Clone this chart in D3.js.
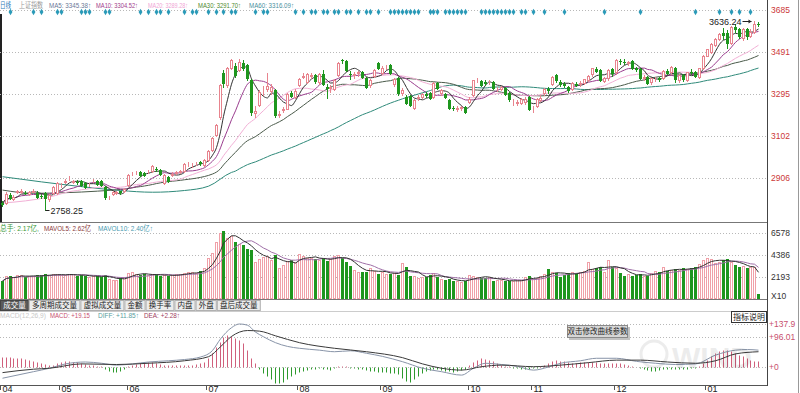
<!DOCTYPE html>
<html>
<head>
<meta charset="utf-8">
<script src="https://cdn.jsdelivr.net/npm/d3@7"></script>
<style>
  body { margin: 0; background: #fff; }
  svg { display: block; }
  text { font-family: "Liberation Sans", "Noto Sans CJK SC", sans-serif; }
</style>
</head>
<body>
<div id="chart"></div>
<script>
// ---- data ----
const monthLabels = ["04", "05", "06", "07", "08", "09", "10", "11", "12", "01"];
const monthStart = [0, 15, 32, 52, 75, 96, 118, 134, 155, 178];

const opens = [
  2788,2790,2828,2810,2840,2842,2837,2832,2843,2838,
  2823,2838,2808,2836,2838,2872,2888,2904,2888,2889,
  2892,2882,2876,2892,2892,2892,2864,2816,2832,2838,
  2844,2848,2873,2924,2933,2934,2929,2937,2938,2948,
  2943,2883,2910,2922,2930,2933,2938,2970,2964,2972,
  2980,2966,2990,3036,3106,3190,3393,3338,3417,3426,
  3408,3440,3430,3361,3206,3245,3318,3318,3310,3315,
  3200,3222,3228,3298,3282,3338,3376,3352,3380,3384,
  3350,3386,3326,3322,3318,3385,3452,3450,3390,3385,
  3392,3398,3370,3338,3378,3440,3394,3420,3430,3340,
  3370,3300,3282,3287,3231,3278,3283,3294,3300,3282,
  3346,3300,3296,3268,3232,3228,3232,3236,3259,3292,
  3360,3356,3350,3350,3350,3320,3320,3324,3300,3258,
  3256,3255,3258,3280,3224,3240,3268,3298,3318,3342,
  3382,3352,3340,3330,3318,3342,3340,3345,3362,3386,
  3410,3408,3358,3370,3410,3396,3450,3446,3440,3448,
  3414,3410,3372,3376,3350,3364,3370,3370,3400,3396,
  3418,3362,3384,3360,3398,3399,3375,3414,3474,3492,
  3522,3552,3580,3580,3532,3606,3598,3555,3597,3566,
  3585,3622
];
const highs = [
  2798,2840,2836,2826,2852,2854,2845,2848,2855,2845,
  2830,2842,2832,2870,2888,2882,2900,2914,2898,2896,
  2898,2886,2885,2900,2898,2895,2868,2824,2848,2848,
  2848,2860,2924,2932,2940,2938,2934,2944,2966,2956,
  2948,2924,2915,2932,2940,2944,2974,2978,2974,2980,
  2986,2992,3036,3096,3158,3342,3407,3422,3459,3440,
  3456,3452,3436,3365,3240,3312,3332,3391,3340,3320,
  3215,3236,3298,3310,3318,3372,3392,3394,3392,3390,
  3394,3405,3340,3336,3365,3446,3460,3455,3400,3398,
  3404,3404,3374,3366,3410,3445,3424,3430,3436,3372,
  3376,3322,3290,3292,3274,3290,3302,3304,3306,3352,
  3352,3320,3302,3272,3240,3238,3242,3240,3280,3362,
  3372,3362,3360,3362,3356,3330,3334,3328,3305,3270,
  3266,3278,3280,3285,3240,3276,3290,3324,3326,3380,
  3390,3362,3350,3334,3350,3350,3354,3366,3382,3418,
  3420,3412,3374,3410,3414,3458,3460,3456,3450,3452,
  3422,3414,3384,3380,3372,3374,3376,3408,3410,3424,
  3422,3386,3390,3398,3412,3402,3416,3475,3506,3530,
  3556,3580,3600,3590,3610,3620,3602,3600,3600,3596,
  3636.24,3628
];
const lows = [
  2778,2786,2808,2804,2836,2838,2830,2828,2839,2815,
  2814,2758.25,2800,2832,2834,2866,2882,2898,2882,2880,
  2868,2858,2868,2886,2874,2868,2808,2810,2828,2832,
  2834,2842,2870,2918,2926,2914,2916,2930,2934,2940,
  2920,2878,2886,2916,2925,2928,2934,2962,2958,2964,
  2968,2962,2986,3030,3100,3180,3330,3330,3410,3375,
  3400,3408,3360,3200,3190,3240,3290,3310,3296,3190,
  3188,3212,3224,3280,3278,3334,3368,3348,3370,3348,
  3342,3338,3278,3305,3312,3378,3440,3400,3364,3372,
  3380,3370,3322,3330,3374,3410,3390,3410,3388,3334,
  3292,3290,3248,3238,3225,3268,3278,3282,3270,3276,
  3318,3292,3276,3224,3220,3218,3222,3206,3254,3286,
  3350,3332,3338,3342,3318,3310,3314,3290,3262,3246,
  3244,3248,3250,3220,3210,3236,3262,3292,3300,3336,
  3350,3332,3328,3304,3314,3332,3334,3340,3356,3380,
  3396,3358,3350,3362,3380,3390,3436,3434,3430,3410,
  3400,3366,3360,3340,3340,3356,3358,3366,3386,3390,
  3350,3352,3358,3356,3390,3374,3372,3412,3470,3485,
  3518,3545,3552,3510,3526,3585,3555,3545,3550,3560,
  3580,3610
];
const closes = [
  2786,2832,2814,2818,2845,2848,2836,2842,2848,2820,
  2822,2814,2827,2864,2883,2874,2893,2906,2893,2888,
  2873,2864,2880,2894,2878,2874,2818,2818,2842,2842,
  2840,2854,2920,2926,2934,2920,2920,2938,2961,2947,
  2925,2920,2892,2926,2935,2938,2970,2971,2968,2973,
  2975,2988,3030,3092,3152,3338,3346,3417,3452,3384,
  3446,3417,3370,3212,3216,3305,3320,3334,3326,3196,
  3205,3228,3294,3286,3310,3367,3378,3388,3384,3356,
  3386,3342,3322,3326,3361,3438,3451,3408,3386,3390,
  3396,3376,3330,3361,3405,3418,3417,3422,3394,3365,
  3300,3315,3254,3245,3268,3280,3296,3292,3278,3348,
  3324,3312,3282,3231,3230,3230,3234,3212,3272,3360,
  3361,3338,3348,3352,3324,3320,3326,3296,3270,3259,
  3258,3272,3272,3225,3226,3272,3278,3320,3312,3373,
  3360,3344,3338,3312,3347,3339,3347,3363,3377,3414,
  3402,3362,3369,3408,3392,3451,3449,3442,3444,3416,
  3410,3371,3373,3347,3369,3367,3366,3404,3394,3420,
  3366,3382,3363,3396,3397,3379,3414,3473,3502,3528,
  3550,3576,3570,3531,3608,3598,3566,3596,3566,3583,
  3621,3618
];
const volumes = [
  1800,2300,2250,2200,2350,2400,2200,2250,2300,2400,
  2350,2450,2350,2500,2450,2400,2350,2500,2450,2300,
  2350,2300,2200,2250,2300,2200,2350,2000,1900,1850,
  2100,2200,2600,2700,2500,2400,2450,2350,2500,2450,
  2300,2350,2300,2400,2450,2500,2600,2650,2700,2550,
  2800,3100,4100,4600,5700,6600,6800,6100,6300,5700,
  5500,5400,5000,4900,3700,4000,4200,4300,3900,4400,
  3100,3400,3800,3900,3700,4500,4300,4100,4100,4000,
  3900,4100,3800,4000,4300,4400,4100,3700,3300,2900,
  2700,2700,2700,3100,2800,2500,2700,2500,2500,2600,
  2400,3600,3200,2300,2250,2100,2200,2200,2400,2600,
  2200,2000,1900,2000,1800,1750,1700,1800,2400,2300,
  2200,2100,2100,2200,1800,1900,1850,1800,1750,1800,
  1850,1900,2200,2300,2000,2100,2300,2500,3000,2700,
  2600,2200,2400,2600,2700,2600,2700,2800,3700,3000,
  3100,3200,2700,3900,3200,3100,2600,2300,2500,2300,
  2400,2500,2300,2300,2600,2800,2700,3200,2800,2900,
  3000,2900,3100,3000,3100,3200,3500,3900,4100,4000,
  3600,3700,3900,4000,3700,3400,3200,3300,3100,3200,
  3200,500
];
const macdHist = [
  31,31,31,30,30,29,27,24,20,17,
  12,10,8,6,14,16,18,18,17,15,
  13,10,8,6,4,2,-6,-12,-15,-15,
  -12,-8,2,6,10,13,15,16,15,13,
  10,8,7,6,5,5,5,6,7,9,
  12,16,28,44,65,81,97,102,99,92,
  86,76,54,28,12,-8,-20,-28,-38,-50,
  -52,-48,-40,-30,-22,-16,-12,-10,-8,-6,
  -4,-6,-8,-10,-4,2,4,2,-2,-4,
  -6,-8,-10,-12,-14,-15,-16,-16,-18,-20,
  -22,-36,-44,-47,-40,-30,-20,-14,-10,-8,
  -8,-10,-12,-14,-16,-14,-10,-6,6,16,
  24,28,27,24,20,14,8,4,2,-2,
  -4,-6,-8,-6,-4,-2,2,8,14,20,
  22,20,18,16,14,14,15,16,16,17,
  16,14,12,12,12,14,12,10,8,4,
  0,-4,-8,-10,-12,-12,-10,-8,-8,-6,
  -6,-8,-8,-6,-4,-2,4,12,24,36,
  46,52,55,54,52,46,40,34,28,22,
  18,19
];
// DIFF / DEA read at sample bars [bar, value]
const diffPts = [[0,-36],[8,-15],[12,-4],[16,10],[21,16],[25,12],[29,6],[33,10],[37,16],[42,20],[46,24],[50,32],[53,53],[55,90],[58,126],[60,138],[62,134],[64,112],[66,97],[69,78],[72,66],[75,60],[80,54],[84,49],[88,52],[92,44],[96,34],[101,17],[106,-4],[111,-15],[116,-26],[119,-4],[122,12],[126,8],[130,2],[134,-10],[138,0],[141,12],[146,20],[150,28],[155,28],[160,18],[165,12],[170,8],[175,10],[180,38],[185,54],[188,56],[191,54]];
const deaPts = [[0,-18],[8,-7],[12,-4],[20,10],[29,8],[37,12],[46,20],[52,33],[55,65],[58,98],[62,117],[65,115],[69,100],[75,78],[84,60],[92,49],[101,30],[106,10],[111,-4],[116,-10],[121,1],[126,6],[134,1],[141,6],[148,14],[155,22],[161,22],[168,16],[175,12],[180,20],[185,42],[191,49]];
// moving-average values before a full window exists [bar, value]
const ma20Lead = [[0,2790],[6,2800],[12,2818],[18,2846]];
const ma30Lead = [[0,2850],[8,2835],[16,2838],[24,2845],[28,2850]];
const ma60Lead = [[0,2912],[10,2888],[20,2866],[30,2848],[38,2840],[46,2848],[52,2868],[58,2932]];
// bars carrying the blue diamond signal
const signalDays = [2,8,10,14,15,20,21,22,26,27,35,37,39,40,42,46,48,49,52,54,56,58,59,64,66,67,74,76,78,79,81,82,84,85,87,88,90,92,93,95,98,99,100,101,102,103,104,105,108,109,110,112,113,114,115,116,117,121,122,123,124,125,126,127,128,129,131,132,134,137,142,152,161,175,181,184,186,189];

const priceTicks = [3685, 3491, 3295, 3102, 2906];
const volTicks = [6578, 4386, 2193];
const macdTicks = [137.9, 96.01, 0];
const macdTickLabels = ["+137.9", "+96.01", "+0"];
const tabLabels = ["成交量", "多周期成交量", "虚拟成交量", "金额", "换手率", "内盘", "外盘", "盘后成交量"];

function drawChart() {
  const W = 800, H = 393, right = 767;
  const N = closes.length;
  const svg = d3.select("#chart").append("svg").attr("width", W).attr("height", H);

  const x = d3.scaleBand().domain(d3.range(N)).range([0, 760]).paddingInner(0.2);
  const cx = i => Math.round(x(i) + x.bandwidth() / 2) + 0.5;
  const yP = d3.scaleLinear().domain([2906, 3685]).range([178, 10]);
  const yV = d3.scaleLinear().domain([0, 6578]).range([299, 233]);
  const yM = d3.scaleLinear().domain([0, 137.9]).range([367, 324]);

  const UP = "#e8848e", DOWN = "#1e961e";
  const isUp = i => closes[i] >= opens[i];

  // moving average, partial window at the very start
  function movAvg(vals, n) {
    return vals.map((v, i) => {
      const s = vals.slice(Math.max(0, i - n + 1), i + 1);
      return [i, d3.mean(s)];
    });
  }
  function fullAvg(vals, n, lead) {
    const pts = lead.slice();
    for (let i = n - 1; i < vals.length; i++) pts.push([i, d3.mean(vals.slice(i - n + 1, i + 1))]);
    return pts;
  }
  // a row of labels, each squeezed into the width it has in the reference
  function labelRow(y, items) {
    items.forEach(d => svg.append("text").attr("x", d[1]).attr("y", y).attr("font-size", 7.5)
      .attr("textLength", d[2] - d[1]).attr("lengthAdjust", "spacingAndGlyphs")
      .attr("fill", d[3]).text(d[0]));
  }

  // ---------- frame lines ----------
  const frame = svg.append("g").attr("stroke-width", 1).attr("fill", "none");
  frame.append("line").attr("x1", right + 0.5).attr("x2", right + 0.5).attr("y1", 0).attr("y2", 386).attr("stroke", "#444");
  frame.append("line").attr("x1", 798.5).attr("x2", 798.5).attr("y1", 0).attr("y2", 393).attr("stroke", "#999");
  frame.append("line").attr("x1", 1).attr("x2", 1).attr("y1", 14).attr("y2", 222).attr("stroke", "#222").attr("stroke-width", 2);
  [222.5, 299.5].forEach(y => frame.append("line").attr("x1", 0).attr("x2", right).attr("y1", y).attr("y2", y).attr("stroke", "#777"));
  frame.append("line").attr("x1", 0).attr("x2", right).attr("y1", 385.5).attr("y2", 385.5).attr("stroke", "#555");
  frame.append("line").attr("x1", 0).attr("x2", right).attr("y1", 311.5).attr("y2", 311.5).attr("stroke", "#ccc");

  // ---------- grid ----------
  const grid = svg.append("g").attr("stroke", "#b8b8b8").attr("stroke-dasharray", "1,2");
  priceTicks.forEach(v => grid.append("line").attr("x1", 0).attr("x2", right).attr("y1", Math.round(yP(v)) + 0.5).attr("y2", Math.round(yP(v)) + 0.5));
  volTicks.forEach(v => grid.append("line").attr("x1", 0).attr("x2", right).attr("y1", Math.round(yV(v)) + 0.5).attr("y2", Math.round(yV(v)) + 0.5));
  macdTicks.forEach(v => grid.append("line").attr("x1", 0).attr("x2", right).attr("y1", Math.round(yM(v)) + 0.5).attr("y2", Math.round(yM(v)) + 0.5));

  // ---------- header texts ----------
  labelRow(8, [["日线", 0, 11, "#2a78b8"], ["上证指数", 19, 43, "#999"], ["MA5: 3345.38↑", 49, 91, "#6a7898"],
    ["MA10: 3304.52↑", 96, 138, "#a0408c"], ["MA20: 3289.28↑", 148, 188, "#f0a4d4"],
    ["MA30: 3291.70↑", 198, 241, "#4e8a2e"], ["MA60: 3316.09↑", 249, 294, "#4a90a0"]]);
  labelRow(231, [["总手: 2.17亿,", 0, 39, "#3a9a3a"], ["MAVOL5: 2.62亿", 44, 91, "#8a3a3a"], ["MAVOL10: 2.40亿↑", 98, 153, "#4a9ab0"]]);
  labelRow(318, [["MACD(12,26,9)", 0, 46, "#c8c8c8"], ["MACD: +19.15", 50, 90, "#c8506e"], ["DIFF: +11.85↑", 98, 139, "#5a9e9e"], ["DEA: +2.28↑", 144, 180, "#a04060"]]);

  // ---------- right axes ----------
  const ax = svg.append("g").attr("font-size", 8.5);
  priceTicks.forEach(v => ax.append("text").attr("x", 771).attr("y", yP(v)).attr("dy", "0.35em").attr("fill", "#cc3838").text(v));
  volTicks.forEach(v => ax.append("text").attr("x", 771).attr("y", yV(v)).attr("dy", "0.35em").attr("fill", "#333").text(v));
  ax.append("text").attr("x", 771).attr("y", 296).attr("dy", "0.35em").attr("fill", "#333").text("X10");
  macdTicks.forEach((v, k) => ax.append("text").attr("x", 769).attr("y", yM(v)).attr("dy", "0.35em").attr("fill", "#c8506e").text(macdTickLabels[k]));

  // ---------- signal diamonds ----------
  svg.append("g").selectAll("path").data(signalDays).enter().append("path")
    .attr("d", d3.symbol(d3.symbolDiamond).size(13))
    .attr("transform", d => `translate(${cx(d)},12)`)
    .attr("fill", "#2a9ab8");

  // ---------- moving averages (price) ----------
  const main = svg.append("g");
  const lineP = d3.line().x(d => cx(d[0])).y(d => yP(d[1])).curve(d3.curveMonotoneX);
  const maSeries = [
    [fullAvg(closes, 60, ma60Lead), "#2f8a7a"],
    [fullAvg(closes, 30, ma30Lead), "#4a5a4a"],
    [fullAvg(closes, 20, ma20Lead), "#f2b0d6"],
    [movAvg(closes, 10), "#9a3c8e"],
    [movAvg(closes, 5), "#333"]
  ];
  maSeries.forEach(s => main.append("path").attr("d", lineP(s[0])).attr("fill", "none").attr("stroke", s[1]).attr("stroke-width", 1));

  // ---------- candles ----------
  const cg = main.append("g").selectAll("g").data(d3.range(N)).enter().append("g");
  cg.append("line")
    .attr("x1", cx).attr("x2", cx)
    .attr("y1", i => Math.round(yP(highs[i]))).attr("y2", i => Math.round(yP(lows[i])) + 1)
    .attr("stroke", i => isUp(i) ? UP : DOWN);
  cg.each(function (i) {
    const g = d3.select(this);
    const top = Math.round(yP(Math.max(opens[i], closes[i])));
    const bot = Math.round(yP(Math.min(opens[i], closes[i])));
    if (isUp(i)) {
      g.append("rect").attr("x", cx(i) - 1).attr("y", top + 0.5).attr("width", 2).attr("height", Math.max(0, bot - top))
        .attr("fill", "#fff").attr("stroke", UP);
    } else {
      g.append("rect").attr("x", cx(i) - 1.5).attr("y", top).attr("width", 3).attr("height", Math.max(1, bot - top + 1))
        .attr("fill", DOWN);
    }
  });

  // extreme labels
  const iMin = d3.minIndex(lows), iMax = d3.maxIndex(highs);
  const yMin = Math.round(yP(lows[iMin])) + 0.5;
  main.append("line").attr("x1", cx(iMin)).attr("x2", cx(iMin) + 4).attr("y1", yMin).attr("y2", yMin).attr("stroke", "#222");
  main.append("text").attr("x", cx(iMin) + 5).attr("y", yMin).attr("dy", "0.35em").attr("font-size", 9).attr("fill", "#222").text(lows[iMin].toFixed(2));
  const yMax = Math.round(yP(highs[iMax])) + 0.5;
  main.append("line").attr("x1", cx(iMax) - 12).attr("x2", cx(iMax) - 3).attr("y1", yMax).attr("y2", yMax).attr("stroke", "#222");
  main.append("path").attr("d", `M${cx(iMax) - 3},${yMax} l-3,-2 v4 z`).attr("fill", "#222");
  main.append("text").attr("x", cx(iMax) - 13).attr("y", yMax).attr("dy", "0.35em").attr("text-anchor", "end").attr("font-size", 9).attr("fill", "#222").text(highs[iMax].toFixed(2));

  // ---------- volume ----------
  const vg = svg.append("g").selectAll("rect").data(d3.range(N)).enter().append("rect");
  vg.each(function (i) {
    const r = d3.select(this);
    const top = Math.round(yV(volumes[i]));
    if (isUp(i)) {
      r.attr("x", cx(i) - 1).attr("y", top + 0.5).attr("width", 2).attr("height", Math.max(0, 299 - top - 1))
        .attr("fill", "#fff").attr("stroke", "#f0a0a8");
    } else {
      r.attr("x", cx(i) - 1.5).attr("y", top).attr("width", 3).attr("height", 299 - top).attr("fill", DOWN);
    }
  });
  const lineV = d3.line().x(d => cx(d[0])).y(d => yV(d[1]));
  svg.append("path").attr("d", lineV(movAvg(volumes, 10))).attr("fill", "none").attr("stroke", "#a070a8");
  svg.append("path").attr("d", lineV(movAvg(volumes, 5))).attr("fill", "none").attr("stroke", "#333");

  // ---------- tabs ----------
  let tx = 0;
  const tg = svg.append("g").attr("font-size", 7.5);
  tabLabels.forEach((t, k) => {
    const w = t.length * 7.6 + 5;
    tg.append("rect").attr("x", tx + 0.5).attr("y", 300.5).attr("width", w).attr("height", 10)
      .attr("fill", k === 0 ? "#5a5a5a" : "#ececec").attr("stroke", k === 0 ? "#444" : "#b0b0b0");
    tg.append("text").attr("x", tx + w / 2 + 0.5).attr("y", 305.5).attr("dy", "0.35em").attr("text-anchor", "middle")
      .attr("fill", k === 0 ? "#fff" : "#222").text(t);
    tx += w + 1;
  });

  // ---------- MACD ----------
  svg.append("g").selectAll("line").data(d3.range(N)).enter().append("line")
    .attr("x1", cx).attr("x2", cx)
    .attr("y1", Math.round(yM(0)) + 0.5).attr("y2", i => Math.round(yM(macdHist[i])) + 0.5)
    .attr("stroke", i => macdHist[i] >= 0 ? "#d0607c" : "#2e9a2e");
  const lineM = d3.line().x(d => cx(d[0])).y(d => yM(d[1])).curve(d3.curveMonotoneX);
  svg.append("path").attr("d", lineM(diffPts)).attr("fill", "none").attr("stroke", "#8894a8");
  svg.append("path").attr("d", lineM(deaPts)).attr("fill", "none").attr("stroke", "#3a3a3a");

  // watermark
  const wm = svg.append("g").attr("opacity", 0.07);
  wm.append("circle").attr("cx", 654).attr("cy", 354).attr("r", 13).attr("fill", "none").attr("stroke", "#000").attr("stroke-width", 3);
  wm.append("text").attr("x", 672).attr("y", 368).attr("font-size", 30).attr("font-weight", "bold").attr("fill", "#000").text("WIND");

  // indicator note box and tooltip
  svg.append("rect").attr("x", 731.5).attr("y", 311.5).attr("width", 35).attr("height", 11).attr("fill", "#fff").attr("stroke", "#333");
  svg.append("text").attr("x", 749).attr("y", 317).attr("dy", "0.35em").attr("text-anchor", "middle").attr("font-size", 8).attr("fill", "#222").text("指标说明");
  svg.append("rect").attr("x", 569).attr("y", 327).attr("width", 61).attr("height", 13).attr("fill", "#999").attr("opacity", 0.6);
  svg.append("rect").attr("x", 567.5).attr("y", 325.5).attr("width", 60).attr("height", 12).attr("fill", "#d6d6d6").attr("stroke", "#8a8a8a");
  svg.append("text").attr("x", 597.5).attr("y", 331.5).attr("dy", "0.35em").attr("text-anchor", "middle").attr("font-size", 7.5).attr("fill", "#222").text("双击修改曲线参数");

  // ---------- month axis ----------
  const mg = svg.append("g").attr("font-size", 9).attr("fill", "#222");
  monthStart.forEach((b, k) => {
    const tx0 = Math.round(x(b)) + 0.5;
    mg.append("line").attr("x1", tx0).attr("x2", tx0).attr("y1", 386).attr("y2", 390).attr("stroke", "#555");
    mg.append("text").attr("x", tx0 + 2).attr("y", 392).text(monthLabels[k]);
  });
}

drawChart();
</script>
</body>
</html>
